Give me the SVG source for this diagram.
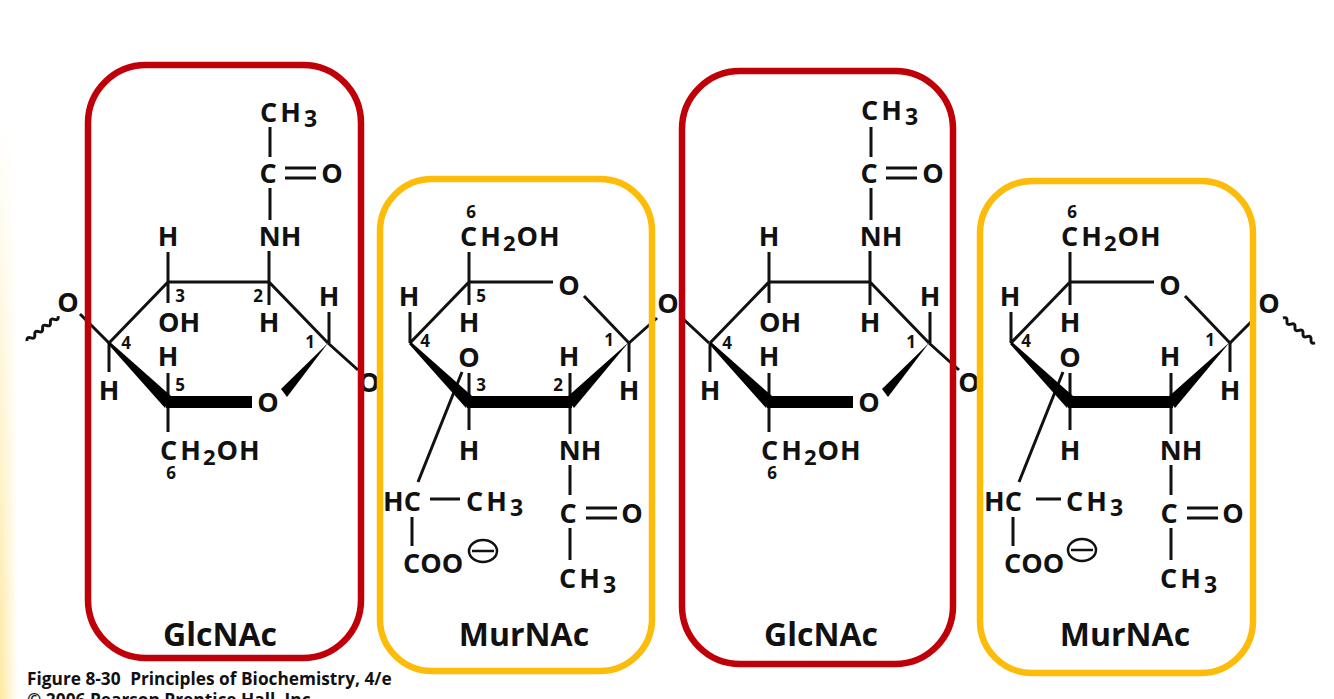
<svg xmlns="http://www.w3.org/2000/svg" width="1334" height="699" viewBox="0 0 1334 699">
<style>
text{font-family:"Open Sans","Liberation Sans",sans-serif;font-weight:700;fill:#111}
.a{font-size:27px;text-anchor:middle}
.s{font-size:27px}
.n{font-size:17px;text-anchor:middle}
.l{font-size:32px;text-anchor:middle}
.c{font-size:17.3px}
.b{fill:none;stroke:#111;stroke-width:3;stroke-linecap:butt}
.t{fill:none;stroke:#000;stroke-width:12}
.w{fill:#000;stroke:none}
.r{fill:none;stroke:#bf0008;stroke-width:6.5}
.y{fill:none;stroke:#fdbb0a;stroke-width:6.5}
.m{fill:none;stroke:#111;stroke-width:2.5}
</style>
<defs>
<linearGradient id="edge" x1="0" x2="1" y1="0" y2="0"><stop offset="0" stop-color="#fde9a0"/><stop offset="1" stop-color="#fff"/></linearGradient>
<linearGradient id="fade" x1="0" x2="0" y1="0" y2="1"><stop offset="0" stop-color="#000"/><stop offset="1" stop-color="#fff"/></linearGradient>
<mask id="m"><rect x="0" y="120" width="18" height="579" fill="url(#fade)"/></mask>
</defs>
<rect width="1334" height="699" fill="#fff"/>
<rect x="0" y="120" width="18" height="579" fill="url(#edge)" mask="url(#m)"/>

<g id="bridges">
<text class="a" x="68" y="312">O</text>
<text class="a" x="369" y="392">O</text>
<text class="a" x="668" y="313">O</text>
<text class="a" x="969" y="392">O</text>
<text class="a" x="1269" y="313">O</text>
</g>

<g id="connectors">
<path class="b" d="M27 341q-.5 -4.6 3.9 -3.1t3.9 -3.1t3.9 -3.1t3.9 -3.1t3.9 -3.1t3.9 -3.1t3.9 -3.1t3.9 -3.1"/>
<path class="b" d="M1283 318q4.5 -1.5 4 3.1t4 3.1t4 3.1t4 3.1t4 3.1t4 3.1t4 3.1t4 3.1"/>
<path class="b" d="M80 314L109 343M328 343L358 370M629 343L657 318M680 316L709 343M929 343L959 370M1230 343L1255 318"/>
<g id="bonds-glc1">
<path class="b" d="M109 343L168 282H269L328 343M270 127V157M270 188V220M269 251V282M168 252V282M168 282V303M269 282V305M329 312V343M109 343V372M168 373V402M168 402V432"/>
<path class="b" d="M285 168H316M285 178H316"/>
<path class="w" d="M110 342L171 396L165 408L108 344Z"/>
<path class="t" d="M166 402H252"/>
<path class="w" d="M328 343L287 397L281 389Z"/>
</g>
<g id="bonds-mur1">
<path class="b" d="M410 343L469 282H553M584 296L629 343V372M469 252V282M469 282V305M410 312V343M469 373V430M570 373V402M570 402V434M570 465V495M570 528V560M462 372L418 482M412 517V546"/>
<path class="b" d="M586 508H617M586 518H617M430 499H460"/>
<path class="w" d="M411 342L472 396L466 408L409 344Z"/>
<path class="t" d="M467 402H572"/>
<path class="w" d="M629 342L574 408L566 398Z"/>
</g>
<g id="bonds-glc2">
<path class="b" d="M710 343L769 282H870L929 343M871 127V157M871 188V220M870 251V282M769 252V282M769 282V303M870 282V305M930 312V343M710 343V372M769 373V402M769 402V432"/>
<path class="b" d="M886 168H917M886 178H917"/>
<path class="w" d="M711 342L772 396L766 408L709 344Z"/>
<path class="t" d="M767 402H853"/>
<path class="w" d="M929 343L888 397L882 389Z"/>
</g>
<g id="bonds-mur2">
<path class="b" d="M1011 343L1070 282H1154M1185 296L1230 343V372M1070 252V282M1070 282V305M1011 312V343M1070 373V430M1171 373V402M1171 402V434M1171 465V495M1171 528V560M1063 372L1019 482M1013 517V546"/>
<path class="b" d="M1187 508H1218M1187 518H1218M1036 499H1061"/>
<path class="w" d="M1012 342L1073 396L1067 408L1010 344Z"/>
<path class="t" d="M1068 402H1173"/>
<path class="w" d="M1230 342L1175 408L1167 398Z"/>
</g>
</g>

<g id="glcnac-1">
<rect class="r" x="88" y="65" width="273" height="593" rx="58"/>
<text class="s" x="260" y="122" letter-spacing="3">CH<tspan dy="5" font-size="23">3</tspan></text>
<text class="a" x="268" y="183">C</text><text class="a" x="332" y="183">O</text>
<text class="a" x="280" y="246">NH</text><text class="a" x="168" y="246">H</text>
<text class="a" x="329" y="306">H</text><text class="n" x="180" y="302">3</text><text class="n" x="258" y="302">2</text>
<text class="a" x="179" y="332">OH</text><text class="a" x="269" y="332">H</text>
<text class="a" x="168" y="366">H</text><text class="n" x="126" y="349">4</text><text class="n" x="310" y="348">1</text>
<text class="n" x="180" y="391">5</text><text class="a" x="109" y="400">H</text><text class="a" x="268" y="412">O</text>
<text class="s" x="160" y="460" letter-spacing="1">C<tspan dx="2">H</tspan><tspan dy="5" dx="1" font-size="22">2</tspan><tspan dy="-5">OH</tspan></text>
<text class="n" x="171" y="479">6</text>
<text class="l" x="220" y="646">GlcNAc</text>
</g>

<g id="murnac-1">
<rect class="y" x="380" y="179" width="272" height="492" rx="52"/>
<text class="n" x="471" y="218">6</text>
<text class="s" x="460" y="246" letter-spacing="1">C<tspan dx="2">H</tspan><tspan dy="5" dx="1" font-size="22">2</tspan><tspan dy="-5">OH</tspan></text>
<text class="a" x="569" y="295">O</text><text class="a" x="409" y="306">H</text>
<text class="n" x="481" y="302">5</text><text class="a" x="469" y="332">H</text>
<text class="n" x="425" y="347">4</text><text class="n" x="609" y="346">1</text>
<text class="a" x="469" y="367">O</text><text class="a" x="569" y="366">H</text>
<text class="n" x="481" y="391">3</text><text class="n" x="558" y="391">2</text><text class="a" x="629" y="400">H</text>
<text class="a" x="469" y="460">H</text><text class="a" x="580" y="460">NH</text>
<text class="s" x="383" y="511">HC</text>
<text class="s" x="466" y="511" letter-spacing="3">CH<tspan dy="5" font-size="23">3</tspan></text>
<text class="a" x="568" y="523">C</text><text class="a" x="632" y="523">O</text>
<text class="s" x="403" y="573">COO</text>
<ellipse class="m" cx="483" cy="551" rx="14" ry="11"/><path class="m" d="M472 551H494"/>
<text class="s" x="559" y="588" letter-spacing="3">CH<tspan dy="5" font-size="23">3</tspan></text>
<text class="l" x="524" y="646">MurNAc</text>
</g>

<g id="glcnac-2">
<rect class="r" x="682" y="71" width="271" height="593" rx="58"/>
<text class="s" x="861" y="120" letter-spacing="3">CH<tspan dy="5" font-size="23">3</tspan></text>
<text class="a" x="869" y="183">C</text><text class="a" x="933" y="183">O</text>
<text class="a" x="881" y="246">NH</text><text class="a" x="769" y="246">H</text>
<text class="a" x="930" y="306">H</text>
<text class="a" x="780" y="332">OH</text><text class="a" x="870" y="332">H</text>
<text class="a" x="769" y="366">H</text><text class="n" x="727" y="349">4</text><text class="n" x="911" y="348">1</text>
<text class="a" x="710" y="400">H</text><text class="a" x="869" y="412">O</text>
<text class="s" x="761" y="460" letter-spacing="1">C<tspan dx="2">H</tspan><tspan dy="5" dx="1" font-size="22">2</tspan><tspan dy="-5">OH</tspan></text>
<text class="n" x="772" y="479">6</text>
<text class="l" x="821" y="646">GlcNAc</text>
</g>

<g id="murnac-2">
<rect class="y" x="980" y="181" width="273" height="492" rx="52"/>
<text class="n" x="1072" y="218">6</text>
<text class="s" x="1061" y="246" letter-spacing="1">C<tspan dx="2">H</tspan><tspan dy="5" dx="1" font-size="22">2</tspan><tspan dy="-5">OH</tspan></text>
<text class="a" x="1170" y="295">O</text><text class="a" x="1010" y="306">H</text>
<text class="a" x="1070" y="332">H</text>
<text class="n" x="1026" y="347">4</text><text class="n" x="1210" y="346">1</text>
<text class="a" x="1070" y="367">O</text><text class="a" x="1170" y="366">H</text>
<text class="a" x="1230" y="400">H</text>
<text class="a" x="1070" y="460">H</text><text class="a" x="1181" y="460">NH</text>
<text class="s" x="984" y="511">HC</text>
<text class="s" x="1066" y="511" letter-spacing="3">CH<tspan dy="5" font-size="23">3</tspan></text>
<text class="a" x="1169" y="523">C</text><text class="a" x="1233" y="523">O</text>
<text class="s" x="1004" y="573">COO</text>
<ellipse class="m" cx="1082" cy="550" rx="14" ry="11"/><path class="m" d="M1071 550H1093"/>
<text class="s" x="1160" y="588" letter-spacing="3">CH<tspan dy="5" font-size="23">3</tspan></text>
<text class="l" x="1125" y="646">MurNAc</text>
</g>

<g id="caption">
<text class="c" x="27" y="685">Figure 8-30<tspan dx="5"> Principles of Biochemistry, 4/e</tspan></text>
<text class="c" x="27" y="706">© 2006 Pearson Prentice Hall, Inc.</text>
</g>
</svg>
